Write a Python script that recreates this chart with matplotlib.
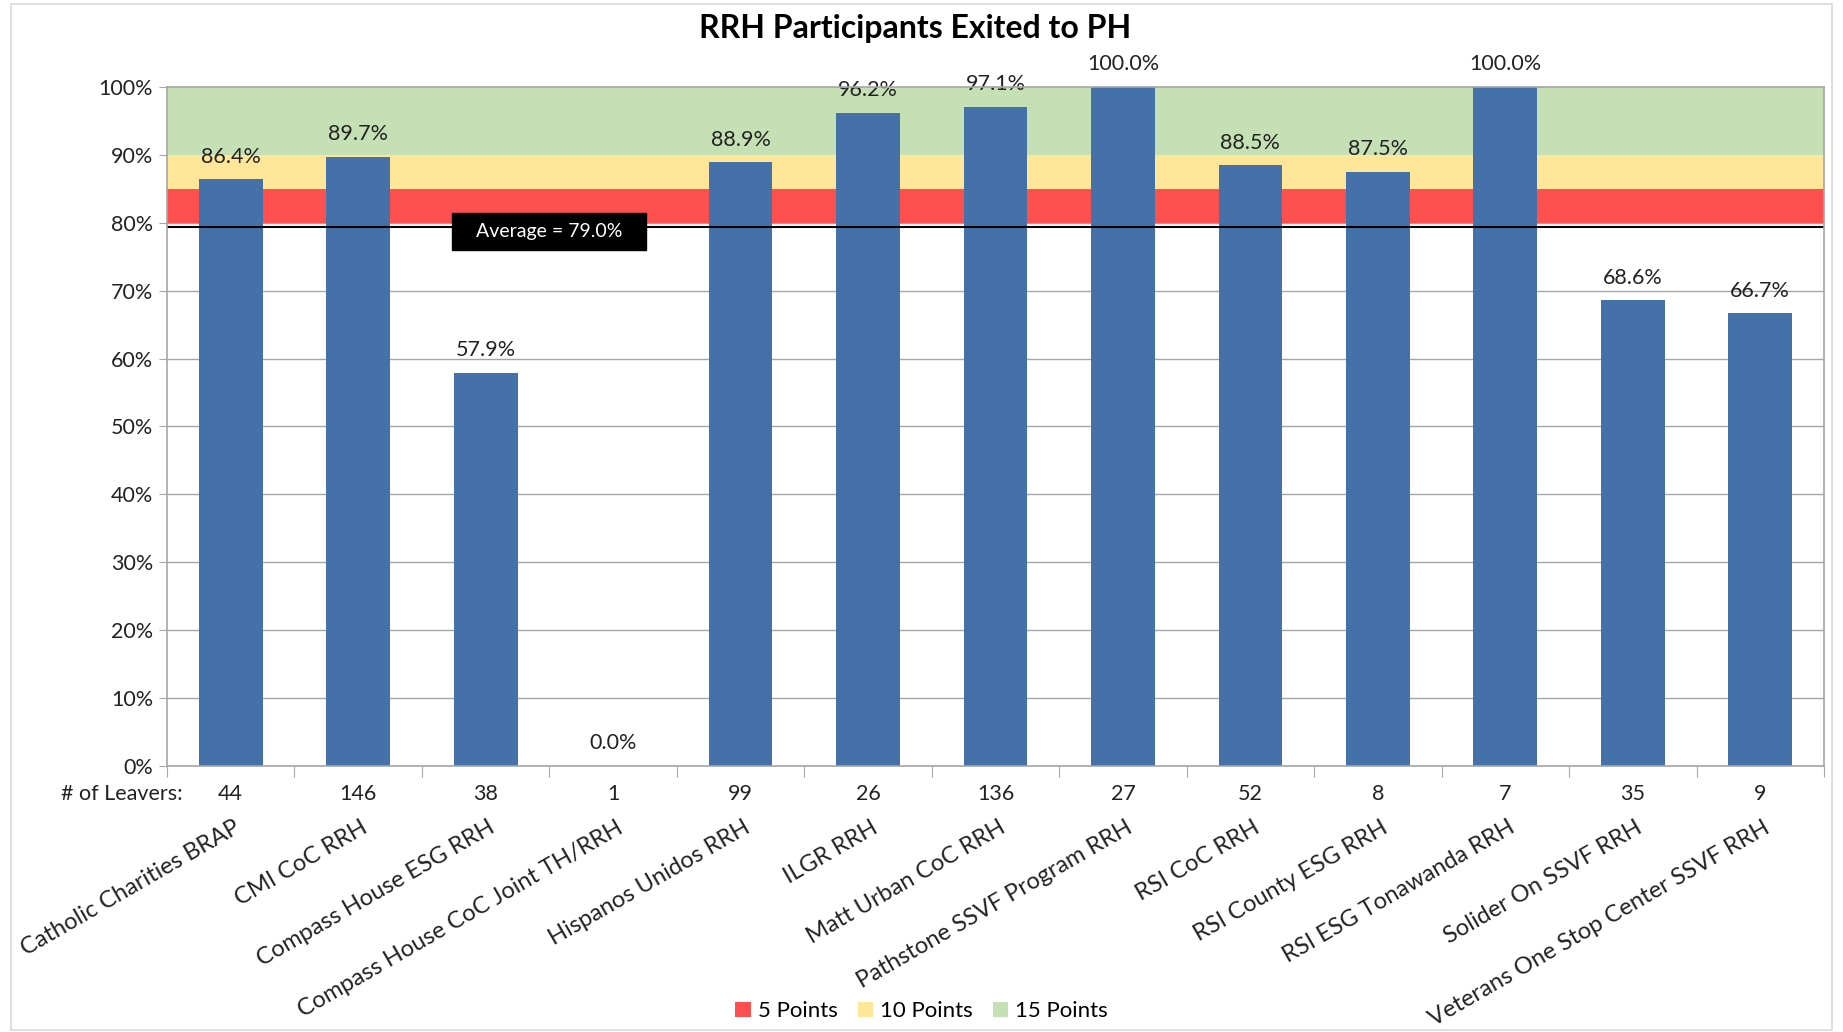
import matplotlib
matplotlib.use("Agg")
import matplotlib.pyplot as plt
from matplotlib.patches import Patch, Rectangle
import matplotlib.transforms as mtransforms

plt.rcParams['font.family'] = ['Lato', 'DejaVu Sans']

categories = ["Catholic Charities BRAP", "CMI CoC RRH", "Compass House ESG RRH",
              "Compass House CoC Joint TH/RRH", "Hispanos Unidos RRH", "ILGR RRH",
              "Matt Urban CoC RRH", "Pathstone SSVF Program RRH", "RSI CoC RRH",
              "RSI County ESG RRH", "RSI ESG Tonawanda RRH", "Solider On SSVF RRH",
              "Veterans One Stop Center SSVF RRH"]
pct_exited = [86.4, 89.7, 57.9, 0.0, 88.9, 96.2, 97.1, 100.0, 88.5, 87.5, 100.0, 68.6, 66.7]
leavers = [44, 146, 38, 1, 99, 26, 136, 27, 52, 8, 7, 35, 9]
average = 79.0
band_names = ["5 Points", "10 Points", "15 Points"]
band_low = [80, 85, 90]
band_high = [85, 90, 100]
band_colors = ["#FF5050", "#FFE699", "#C5E0B4"]
yticks = [0, 10, 20, 30, 40, 50, 60, 70, 80, 90, 100]

fig = plt.figure(figsize=(18.43, 10.32), dpi=100)
fig.patches.append(Rectangle((0.006, 0.002), 0.988, 0.994, transform=fig.transFigure,
                             fill=False, edgecolor="#D9D9D9", linewidth=1.2))
ax = fig.add_axes([0.0906, 0.2578, 0.8991, 0.6579])

n = len(categories)
xs = list(range(n))
ax.set_xlim(-0.5, n - 0.5)
ax.set_ylim(0, 100)

for t in yticks:
    ax.axhline(t, color="#A6A6A6", linewidth=1.0, zorder=0)

for lo, hi, c in zip(band_low, band_high, band_colors):
    ax.axhspan(lo, hi, color=c, zorder=1, linewidth=0)

ax.bar(xs, pct_exited, width=0.5, color="#4472A8", zorder=2)

# average line and label box
ax.axhline(average + 0.4, color="black", linewidth=1.5, zorder=3)
box_cx, box_cy, box_w, box_h = 2.5, average - 0.3, 1.52, 5.5
ax.add_patch(Rectangle((box_cx - box_w / 2, box_cy - box_h / 2), box_w, box_h,
                       facecolor="black", edgecolor="black", zorder=4))
ax.text(box_cx, box_cy, "Average = 79.0%", color="white", fontsize=14,
        ha="center", va="center", zorder=5)

for x, v in zip(xs, pct_exited):
    ax.annotate(f"{v:.1f}%", (x, v), xytext=(0, 9), textcoords="offset points",
                ha="center", va="bottom", fontsize=15.5, color="#222222", zorder=5)

ax.set_yticks(yticks)
ax.set_yticklabels([f"{t}%" for t in yticks], fontsize=15.5, color="#222222")
ax.tick_params(axis="y", length=6, color="#A6A6A6", pad=4)

ax.set_xticks([i - 0.5 for i in range(n + 1)])
ax.set_xticklabels([])
ax.tick_params(axis="x", length=8, color="#A6A6A6", direction="out")

for s in ax.spines.values():
    s.set_color("#A6A6A6")
    s.set_linewidth(1.2)
    s.set_zorder(6)

trans = mtransforms.blended_transform_factory(ax.transData, ax.transAxes)
for x, nl in zip(xs, leavers):
    ax.text(x, -0.041, str(nl), transform=trans, ha="center", va="center",
            fontsize=15.5, color="#222222")
ax.text(-0.38, -0.041, "# of Leavers:", transform=trans, ha="right",
        va="center", fontsize=15.5, color="#222222")
for x, c in zip(xs, categories):
    ax.text(x + 0.02, -0.075, c, transform=trans, ha="right", va="top",
            rotation=30, rotation_mode="anchor", fontsize=17, color="#222222")

fig.text(0.4965, 0.972, "RRH Participants Exited to PH", ha="center", va="center",
         fontsize=23, fontweight="bold", color="black")

handles = [Patch(facecolor=c, edgecolor="none") for c in band_colors]
fig.legend(handles, band_names, loc="center", bbox_to_anchor=(0.5, 0.02), ncol=3,
           frameon=False, fontsize=16, handlelength=0.7, handleheight=0.7,
           handletextpad=0.3, columnspacing=0.9)

fig.savefig("out.png", dpi=100)
